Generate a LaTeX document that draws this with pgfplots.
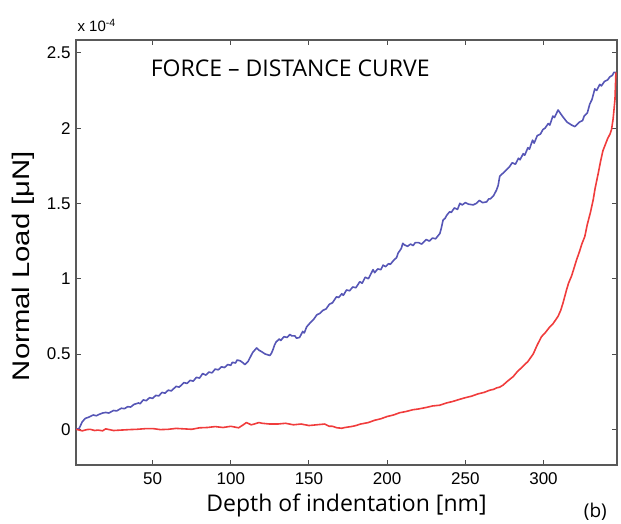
\documentclass[border=0pt]{standalone}
\usepackage{fontspec}
\setmainfont{Open Sans}
\newfontfamily\tickfont{Liberation Sans}
\usepackage{graphicx}
\usepackage{pgfplots}
\pgfplotsset{compat=1.18}

\definecolor{loadblue}{HTML}{5656B6}
\definecolor{unloadred}{HTML}{F03C3C}

\begin{document}
\begin{tikzpicture}
\begin{axis}[
  name=ax,
  scale only axis,
  width=541pt,
  height=425pt,
  xmin=1, xmax=347,
  ymin=-0.237, ymax=2.585,
  xtick={50,100,150,200,250,300},
  ytick={0,0.5,1,1.5,2,2.5},
  yticklabels={0,0.5,1,1.5,2,2.5},
  tick align=inside,
  tick pos=both,
  major tick length=5pt,
  tick style={line width=1pt, color=black!70},
  axis line style={line width=1.4pt, color=black!65},
  tick label style={font=\fontsize{17}{17}\selectfont\tickfont},
  /pgf/number format/assume math mode=true,
  xticklabel style={yshift=-4pt},
  yticklabel style={xshift=-2pt},
  clip=false,
]
  \addplot[color=loadblue, line width=1.6pt, line join=round] coordinates {
    (1,0) (3,0.005) (5,0.05) (7,0.073) (9,0.08) (11,0.09) (12,0.095) (14,0.09) (16,0.10)
    (18,0.108) (20,0.112) (22,0.108) (25,0.125) (27,0.122) (30,0.14) (32,0.137) (34,0.15)
    (36,0.148) (38,0.165) (41,0.175) (42,0.17) (44,0.195) (46,0.19) (48,0.21) (50,0.205)
    (52,0.225) (54,0.222) (56,0.245) (58,0.24) (60,0.26) (62,0.255) (65,0.285) (67,0.28)
    (70,0.31) (72,0.305) (74,0.325) (76,0.32) (78,0.345) (80,0.34) (82,0.37) (84,0.36)
    (86,0.38) (88,0.375) (90,0.40) (92,0.395) (94,0.415) (96,0.41) (98,0.43) (100,0.425)
    (101,0.445) (103,0.44) (104,0.46) (106,0.455) (108,0.44) (109,0.43) (111,0.45) (112,0.47)
    (114,0.51) (116.5,0.54) (118,0.525) (119,0.52) (122,0.50) (125,0.49) (126,0.505) (127,0.53)
    (128,0.56) (129,0.58) (131,0.60) (132,0.59) (134,0.615) (136,0.61) (137.8,0.63) (139,0.62)
    (141,0.62) (142,0.605) (144,0.61) (146,0.65) (147,0.64) (148.5,0.68) (151,0.71) (153,0.73)
    (155,0.76) (157,0.77) (159,0.79) (161,0.80) (163,0.83) (165,0.84) (167.6,0.88) (169,0.875)
    (171,0.90) (172,0.89) (174,0.925) (176,0.92) (178,0.945) (180,0.94) (182.5,0.98) (184,0.97)
    (186,1.01) (188,1.00) (191,1.06) (192,1.04) (194,1.065) (196,1.06) (197.4,1.09) (199,1.08)
    (201,1.10) (202,1.095) (204,1.12) (206,1.14) (207,1.17) (209,1.20) (210,1.235) (211,1.225)
    (213,1.215) (215,1.23) (216.6,1.22) (218,1.24) (220,1.24) (222,1.23) (225,1.26) (227,1.25)
    (229,1.27) (231,1.265) (233.7,1.30) (234.5,1.33) (235.8,1.39) (237,1.40) (238,1.42) (240,1.445)
    (241,1.44) (243,1.47) (245,1.46) (246.5,1.50) (248,1.49) (250,1.505) (252,1.495) (255,1.49)
    (257,1.50) (259,1.52) (261,1.505) (263.6,1.51) (265,1.53) (266,1.53) (268,1.55) (270,1.59)
    (271,1.62) (272,1.68) (274,1.70) (276,1.72) (278,1.74) (280,1.77) (282,1.76) (284,1.80)
    (285,1.79) (287,1.83) (288,1.82) (290,1.87) (291,1.86) (293,1.92) (294,1.90) (296,1.95)
    (298,1.96) (299.6,1.99) (301,2.00) (303,2.03) (304,2.02) (306,2.08) (307,2.07) (309.3,2.12)
    (310,2.11) (312,2.08) (315,2.04) (318,2.02) (320,2.01) (321,2.02) (323,2.04) (325,2.05)
    (326,2.08) (328,2.10) (329.6,2.16) (331,2.19) (332.8,2.26) (334,2.25) (336,2.29) (337,2.28)
    (339,2.31) (341,2.32) (342.4,2.34) (344,2.35) (345,2.37) (346.3,2.37)
  };
  \addplot[color=unloadred, line width=1.6pt, line join=round] coordinates {
    (1,0) (3,-0.005) (5,-0.01) (8,-0.002) (10,0.0) (13,-0.008) (15,-0.005) (18,-0.01) (20,0.003)
    (25,-0.008) (30,-0.005) (35,-0.002) (40,0.0) (45,0.004) (50,0.005) (55,-0.002) (60,0.0)
    (65,0.006) (70,0.003) (75,0.0) (80,0.01) (85,0.012) (90,0.018) (95,0.012) (100,0.02)
    (105,0.01) (108,0.03) (110,0.045) (113,0.03) (115,0.035) (118,0.045) (120,0.04) (125,0.035)
    (130,0.035) (135,0.04) (140,0.03) (145,0.035) (150,0.025) (155,0.03) (160,0.035) (163,0.02)
    (165,0.02) (168,0.01) (171,0.007) (173,0.012) (175,0.015) (178,0.02) (180,0.025) (183,0.035)
    (185.6,0.04) (188,0.045) (192,0.06) (196,0.07) (200,0.085) (204,0.095) (208,0.11) (212,0.118)
    (216.5,0.13) (220,0.135) (225,0.145) (229,0.155) (233.6,0.16) (238,0.175) (242,0.185) (246,0.198)
    (250,0.21) (254,0.22) (258,0.235) (262,0.245) (265.7,0.26) (268,0.265) (270,0.275) (272,0.28)
    (274.2,0.294) (277,0.32) (280.6,0.35) (283,0.38) (287,0.42) (290,0.45) (293.4,0.50) (296,0.56)
    (298.7,0.615) (301,0.64) (304,0.68) (306,0.70) (309.3,0.75) (311,0.79) (312.5,0.84) (314.7,0.925)
    (316,0.97) (318,1.02) (319.5,1.07) (321.1,1.124) (323,1.18) (324.5,1.23) (326.4,1.28) (328,1.36)
    (330,1.44) (331.7,1.52) (333,1.60) (335,1.70) (336.5,1.78) (338,1.85) (339.5,1.89) (341,1.93)
    (342.5,1.96) (343.5,1.99) (344.5,2.06) (345.7,2.19) (346,2.28) (346.3,2.37)
  };
  \node[font=\fontsize{23}{23}\selectfont] at (rel axis cs:0.396,1) [yshift=-28pt] {FORCE -- DISTANCE CURVE};
  \node[font=\fontsize{15}{15}\selectfont\tickfont, anchor=base west] at (rel axis cs:0,1) [yshift=8pt, xshift=-2pt] {x 10\textsuperscript{-4}};
  \node[font=\fontsize{24}{24}\selectfont\tickfont, rotate=90] at ([xshift=-53pt]rel axis cs:0,0.468) {\scalebox{1.22}[1]{Normal Load [μN]}};
  \node[font=\fontsize{23}{23}\selectfont] at (rel axis cs:0.5,0) [yshift=-40pt] {Depth of indentation [nm]};
  \node[font=\fontsize{19}{19}\selectfont] at (rel axis cs:0.96,0) [yshift=-47pt] {(b)};
\end{axis}
\pgfresetboundingbox
\path[use as bounding box] ([xshift=-76pt,yshift=-59pt]ax.south west) rectangle ([xshift=4pt,yshift=40pt]ax.north east);
\end{tikzpicture}
\end{document}
